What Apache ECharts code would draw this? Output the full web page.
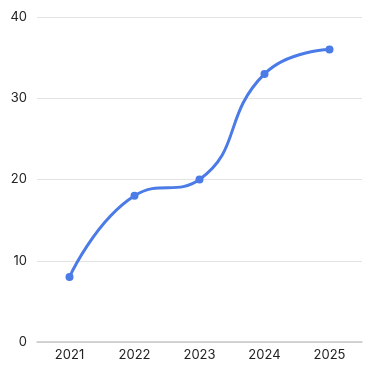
<!DOCTYPE html>
<html><head><meta charset="utf-8">
<script src="https://cdn.jsdelivr.net/npm/echarts@6/dist/echarts.min.js"></script>
<style>html,body{margin:0;padding:0;background:#fff}#c{width:375px;height:375px}</style>
</head><body><div id="c"></div>
<script>
const categories = ['2021', '2022', '2023', '2024', '2025'];
const values = [8, 18, 20, 33, 36];
const yTicks = { min: 0, max: 40, interval: 10 };

const chart = echarts.init(document.getElementById('c'), null, { renderer: 'canvas' });
chart.setOption({
  animation: false,
  grid: { left: 37, right: 13, top: 17, bottom: 33, containLabel: false },
  xAxis: {
    type: 'category', data: categories, boundaryGap: true,
    axisLine: { show: true, lineStyle: { color: '#c8c8c8', width: 1.5 } },
    axisTick: { show: false },
    axisLabel: { color: '#222', fontSize: 13, fontFamily: 'Inter', margin: 7 }
  },
  yAxis: {
    type: 'value', min: yTicks.min, max: yTicks.max, interval: yTicks.interval,
    axisLine: { show: false }, axisTick: { show: false },
    splitLine: { lineStyle: { color: '#e3e3e3', width: 1 } },
    axisLabel: { color: '#222', fontSize: 13, fontFamily: 'Inter', margin: 10 }
  },
  series: [{
    type: 'line', data: values, smooth: 0.5,
    symbol: 'circle', symbolSize: 8,
    lineStyle: { color: '#4a7be6', width: 3 },
    itemStyle: { color: '#4a7be6' }
  }]
});
</script></body></html>
